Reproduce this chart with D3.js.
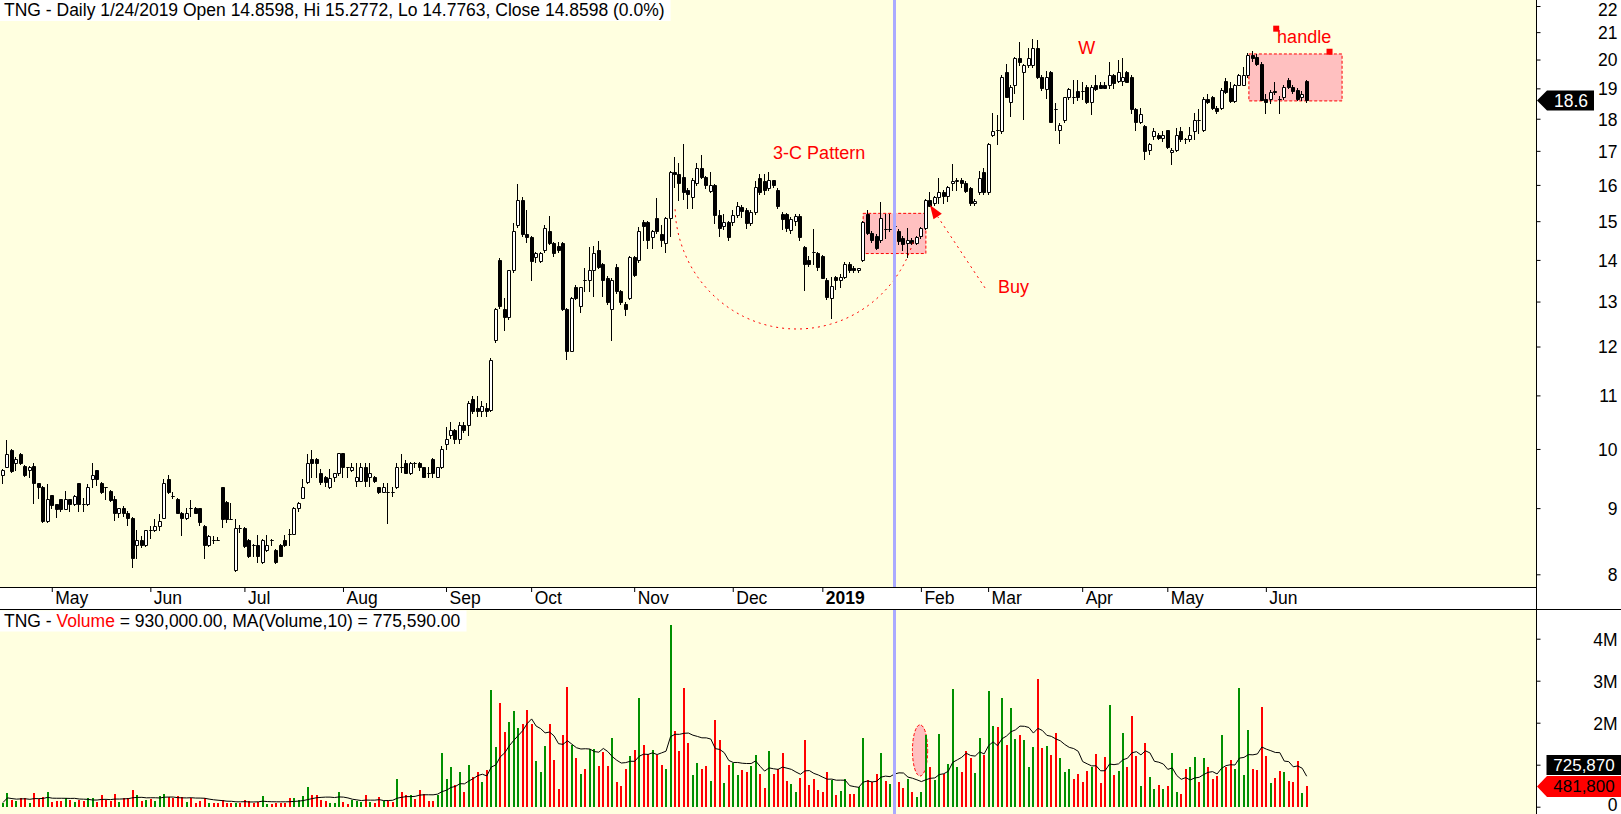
<!DOCTYPE html>
<html>
<head>
<meta charset="utf-8">
<title>TNG daily</title>
<script src="https://cdn.jsdelivr.net/npm/d3@7"></script>
<style>
  body { margin: 0; background: #fff; }
  svg { display: block; font-family: Arial, 'Liberation Sans', sans-serif; }
</style>
</head>
<body>
<div id="chart"></div>
<script>
// daily bars [open, high, low, close], 12 Apr 2018 .. 14 Jun 2019
const ohlc = [
  [9.55,9.65,9.42,9.63],[9.69,10.16,9.68,9.91],[9.98,10.0,9.6,9.62],[9.76,9.85,9.64,9.83],[9.91,9.93,9.74,9.76],
  [9.70,9.72,9.53,9.55],[9.63,9.70,9.52,9.69],[9.70,9.75,9.08,9.41],[9.41,9.42,9.16,9.34],[9.34,9.36,8.78,8.79],
  [8.79,9.40,8.78,9.14],[9.21,9.22,9.0,9.05],[9.06,9.07,8.86,8.99],[9.14,9.15,8.95,8.99],[8.99,9.28,8.98,9.14],
  [9.14,9.15,8.95,9.06],[9.06,9.22,9.05,9.20],[9.41,9.42,8.95,9.06],[9.07,9.16,8.95,9.06],[9.06,9.40,9.05,9.34],
  [9.48,9.75,9.35,9.55],[9.63,9.64,9.37,9.48],[9.41,9.43,9.25,9.27],[9.34,9.35,9.14,9.34],[9.28,9.30,9.12,9.13],
  [9.14,9.19,8.81,8.93],[8.93,9.0,8.86,9.0],[9.0,9.04,8.88,8.93],[8.93,8.95,8.73,8.85],[8.85,8.86,8.11,8.23],
  [8.43,8.65,8.24,8.51],[8.51,8.56,8.40,8.43],[8.43,8.66,8.42,8.65],[8.65,8.72,8.53,8.65],[8.65,8.83,8.64,8.72],
  [8.72,8.91,8.66,8.79],[8.85,9.48,8.84,9.41],[9.48,9.54,9.25,9.27],[9.2,9.27,9.16,9.2],[9.14,9.16,8.92,8.93],
  [8.93,8.94,8.58,8.85],[8.85,9.0,8.82,8.93],[9.0,9.13,8.87,9.0],[9.0,9.02,8.92,8.93],[9.0,9.0,8.73,8.78],
  [8.72,8.73,8.24,8.43],[8.43,8.58,8.42,8.57],[8.51,8.56,8.46,8.51],[8.51,8.55,8.51,8.51],[9.34,9.35,8.70,8.83],
  [9.1,9.11,8.78,8.83],[8.83,9.08,8.82,8.83],[8.06,8.83,8.05,8.69],[8.69,8.74,8.62,8.69],[8.69,8.70,8.40,8.41],
  [8.51,8.52,8.25,8.26],[8.43,8.44,8.26,8.43],[8.43,8.58,8.18,8.26],[8.17,8.52,8.16,8.51],[8.35,8.58,8.34,8.43],
  [8.51,8.52,8.43,8.51],[8.36,8.37,8.16,8.17],[8.43,8.44,8.26,8.26],[8.51,8.58,8.41,8.43],[8.6,8.67,8.43,8.6],
  [8.6,9.02,8.59,9.01],[9.01,9.1,8.95,9.09],[9.17,9.48,9.16,9.34],[9.43,9.91,9.42,9.76],[9.83,9.99,9.52,9.76],
  [9.83,9.84,9.52,9.76],[9.58,9.65,9.4,9.43],[9.52,9.53,9.36,9.43],[9.34,9.65,9.33,9.5],[9.52,9.58,9.45,9.58],
  [9.58,9.93,9.55,9.92],[9.92,9.93,9.52,9.68],[9.68,9.69,9.52,9.68],[9.63,9.75,9.62,9.68],[9.45,9.75,9.36,9.52],
  [9.45,9.75,9.44,9.68],[9.68,9.75,9.36,9.45],[9.52,9.75,9.36,9.58],[9.52,9.53,9.43,9.45],[9.34,9.35,9.25,9.27],
  [9.27,9.41,9.26,9.34],[9.27,9.41,8.77,9.27],[9.27,9.34,9.2,9.27],[9.34,9.75,9.33,9.68],[9.68,9.91,9.6,9.68],
  [9.76,9.8,9.58,9.58],[9.58,9.77,9.57,9.76],[9.76,9.77,9.68,9.76],[9.76,9.77,9.63,9.68],[9.68,9.69,9.52,9.52],
  [9.58,9.68,9.52,9.58],[9.83,9.84,9.52,9.58],[9.52,9.69,9.51,9.68],[9.68,10.05,9.67,10.0],[10.09,10.4,10.0,10.17],
  [10.26,10.5,10.2,10.34],[10.34,10.36,10.1,10.17],[10.17,10.5,10.1,10.43],[10.43,10.5,10.3,10.34],[10.43,10.9,10.26,10.86],
  [10.93,10.98,10.66,10.7],[10.75,10.98,10.6,10.7],[10.7,10.9,10.6,10.8],[10.75,10.85,10.6,10.7],[10.72,11.75,10.7,11.72],
  [12.13,12.85,12.1,12.82],[14.0,14.05,12.85,12.9],[12.83,13.08,12.36,12.65],[12.65,13.76,12.6,13.75],[13.75,14.95,13.7,14.74],
  [14.91,16.02,14.85,15.58],[15.58,15.65,14.6,14.65],[14.65,15.3,14.46,14.58],[14.58,14.6,13.51,13.98],[14.07,14.2,13.95,14.17],
  [13.98,14.2,13.95,14.17],[14.25,14.9,14.2,14.83],[14.74,15.13,14.4,14.43],[14.43,14.45,14.1,14.17],[14.35,14.45,14.2,14.25],
  [14.43,14.45,12.8,12.82],[12.82,12.85,11.73,11.91],[11.91,13.1,11.9,13.09],[13.33,13.4,13.05,13.09],[12.9,13.33,12.77,13.33],
  [13.5,13.79,13.24,13.5],[13.5,14.32,13.24,13.75],[13.75,14.35,13.12,14.17],[14.25,14.48,13.8,13.82],[13.9,13.92,13.12,13.51],
  [13.56,13.6,12.95,12.99],[12.82,13.55,12.14,13.5],[13.82,13.9,13.2,13.25],[13.25,13.27,12.95,12.99],[12.95,12.98,12.69,12.82],
  [13.09,14.1,13.05,14.07],[14.07,14.1,13.6,13.64],[14.0,14.85,13.95,14.74],[14.97,15.03,14.5,14.86],[14.97,15.0,14.3,14.5],
  [14.58,14.76,14.3,14.74],[15.09,15.62,14.7,14.74],[14.65,14.9,14.35,14.5],[14.43,15.1,14.19,15.09],[15.09,16.4,14.6,16.38],
  [16.38,16.8,15.95,16.3],[16.3,16.65,15.58,16.05],[16.23,17.2,15.6,15.8],[15.85,15.9,15.35,15.75],[15.65,16.2,15.35,16.14],
  [16.05,16.65,16.0,16.48],[16.48,16.87,16.2,16.23],[16.23,16.25,15.9,16.0],[15.83,16.38,15.8,16.0],[16.0,16.02,14.95,15.16],
  [15.16,15.3,14.6,14.83],[14.86,15.2,14.8,14.97],[14.97,15.0,14.5,14.57],[14.97,15.3,14.9,15.16],[15.16,15.53,15.1,15.4],
  [15.38,15.45,15.1,15.28],[15.3,15.35,14.81,14.95],[14.95,15.3,14.9,15.25],[15.25,16.1,15.2,15.95],[16.2,16.3,15.75,15.8],
  [16.1,16.3,15.75,15.85],[15.9,16.38,15.85,16.14],[16.14,16.15,15.95,16.0],[15.86,15.9,15.35,15.4],[15.2,15.25,14.8,15.07],
  [15.2,15.22,14.75,14.82],[14.76,15.1,14.7,15.05],[15.0,15.2,14.9,15.15],[15.15,15.2,14.5,14.58],[14.32,14.35,13.27,13.9],
  [14.0,14.1,13.85,13.9],[14.19,14.79,13.9,14.19],[14.17,14.2,13.75,13.82],[14.1,14.12,13.55,13.56],[13.51,13.55,13.05,13.1],
  [13.09,13.57,12.63,13.36],[13.57,13.6,13.3,13.5],[13.5,13.65,13.35,13.57],[13.57,13.95,13.55,13.9],[13.9,13.95,13.7,13.74],
  [13.8,13.85,13.7,13.74],[13.74,13.8,13.7,13.8],[14.0,15.0,13.98,14.97],[15.2,15.3,14.65,14.69],[14.69,14.75,14.45,14.5],
  [14.6,14.65,14.28,14.3],[14.5,15.52,14.45,15.09],[14.8,15.2,14.55,14.8],[14.78,15.2,14.75,14.8],[14.8598,15.2772,14.7763,14.8598],
  [14.74,14.8,14.4,14.47],[14.55,14.6,14.25,14.4],[14.43,14.81,14.07,14.5],[14.5,14.55,14.4,14.43],[14.43,14.6,14.4,14.58],
  [14.62,14.85,14.55,14.83],[14.83,15.6,14.8,15.58],[15.58,15.8,15.4,15.42],[15.48,15.7,15.45,15.65],[15.65,16.2,15.5,15.8],
  [15.8,15.85,15.5,15.7],[15.7,15.97,15.55,15.95],[16.05,16.6,15.85,16.1],[16.1,16.2,15.85,16.15],[16.15,16.2,15.95,16.05],
  [16.05,16.1,15.8,15.83],[15.91,15.95,15.45,15.48],[15.48,15.6,15.45,15.55],[15.8,16.4,15.75,16.2],[16.38,16.5,15.75,15.8],
  [15.8,17.25,15.75,17.2],[17.5,18.2,17.45,17.6],[17.64,18.12,17.2,17.64],[17.6,19.45,17.55,19.4],[19.56,19.84,18.7,18.7],
  [18.55,19.1,18.1,19.05],[19.13,20.1,18.85,20.06],[20.06,20.65,19.8,19.93],[19.56,19.85,17.99,19.8],[19.8,20.4,19.75,20.07],
  [19.8,20.76,19.75,20.4],[20.4,20.7,19.35,19.4],[19.4,19.45,18.95,19.02],[18.97,19.58,18.67,19.4],[19.56,19.6,17.9,17.91],
  [18.3,18.5,17.64,18.3],[17.64,17.85,17.25,17.81],[17.96,18.72,17.9,18.7],[18.7,19.0,18.65,18.97],[18.72,19.3,18.5,18.7],
  [18.9,19.3,18.6,18.72],[18.9,19.2,18.65,18.9],[19.05,19.1,18.5,18.55],[18.55,19.1,18.15,19.05],[19.13,19.45,18.95,18.98],
  [19.13,19.2,19.0,19.02],[19.13,19.2,19.0,19.02],[19.13,19.9,19.0,19.46],[19.46,19.5,19.0,19.17],[19.26,20.0,19.2,19.56],
  [19.26,20.05,19.1,19.4],[19.56,19.6,19.2,19.2],[19.4,19.45,18.2,18.3],[18.3,18.35,17.64,17.91],[17.91,18.35,17.85,18.15],
  [17.78,17.8,16.76,17.0],[17.03,17.25,16.9,17.2],[17.47,17.7,17.35,17.6],[17.5,17.55,17.35,17.4],[17.4,17.6,17.3,17.5],
  [17.64,17.65,17.1,17.12],[16.96,17.1,16.62,17.04],[17.04,17.7,17.0,17.5],[17.6,17.75,17.3,17.35],[17.35,17.4,17.25,17.35],
  [17.35,17.75,17.3,17.5],[17.6,18.2,17.35,17.96],[17.96,18.3,17.55,17.96],[17.64,18.7,17.6,18.64],[18.64,18.8,18.5,18.55],
  [18.7,18.75,18.3,18.35],[18.35,18.4,18.2,18.25],[18.35,19.0,18.3,18.95],[19.24,19.35,18.85,18.87],[19.0,19.2,18.55,18.58],
  [18.58,19.15,18.55,19.13],[19.13,19.5,19.1,19.46],[19.13,19.75,19.1,19.46],[19.46,20.25,19.4,20.16],[20.16,20.3,19.95,20.04],
  [20.1,20.2,19.8,19.83],[19.83,19.9,18.6,18.61],[18.64,18.8,18.2,18.55],[18.64,18.95,18.5,18.87],[18.92,19.2,18.8,18.87],
  [18.65,18.75,18.2,18.65],[18.72,19.1,18.65,19.05],[19.28,19.35,19.0,19.05],[19.05,19.1,18.85,18.9],[18.95,19.0,18.6,18.64],
  [18.7,18.9,18.6,18.8],[19.25,19.3,18.55,18.6]
]

// volume per bar, millions of shares
const volume = [
  0.10,0.32,0.16,0.14,0.21,0.20,0.10,0.32,0.18,0.24,
  0.36,0.12,0.14,0.14,0.20,0.17,0.12,0.16,0.14,0.20,
  0.20,0.12,0.28,0.16,0.14,0.30,0.12,0.20,0.21,0.40,
  0.28,0.14,0.16,0.18,0.14,0.25,0.30,0.24,0.21,0.25,
  0.24,0.12,0.21,0.10,0.13,0.21,0.10,0.08,0.10,0.16,
  0.10,0.10,0.08,0.10,0.17,0.14,0.10,0.12,0.25,0.06,
  0.06,0.08,0.08,0.10,0.20,0.21,0.17,0.25,0.48,0.29,
  0.28,0.16,0.14,0.10,0.10,0.36,0.12,0.06,0.17,0.13,
  0.12,0.28,0.12,0.10,0.22,0.13,0.14,0.12,0.67,0.34,
  0.28,0.28,0.18,0.40,0.30,0.13,0.13,0.28,1.27,0.67,
  0.95,0.52,0.83,0.36,0.99,0.71,0.83,0.60,0.87,2.79,
  1.43,2.46,1.79,2.02,2.28,1.87,1.98,2.30,1.98,1.09,
  0.83,1.44,1.98,1.11,0.42,1.71,2.84,1.47,1.15,0.79,
  0.89,1.37,1.37,0.97,1.31,0.97,1.64,0.60,0.49,0.89,
  1.21,1.35,2.58,1.47,1.25,1.35,1.23,0.99,0.90,4.33,
  1.80,1.33,2.83,1.52,0.75,1.05,0.90,0.98,0.61,2.06,
  1.59,0.57,0.99,1.03,0.75,0.87,0.83,0.98,1.23,0.78,
  0.45,1.33,0.78,0.89,1.29,0.61,0.54,0.36,0.69,1.59,
  0.52,0.66,0.40,0.36,0.82,0.63,0.28,0.37,0.67,0.30,
  0.30,0.48,1.64,0.63,0.60,0.78,1.27,0.61,0.54,0.93,
  0.58,0.44,0.67,0.36,0.22,0.36,1.71,0.95,0.63,1.73,
  0.78,1.02,2.80,0.95,0.83,1.33,1.17,0.81,1.64,1.23,
  2.76,1.92,1.89,2.60,1.47,2.36,1.61,1.71,1.59,0.95,
  1.43,3.04,1.39,1.44,1.23,1.75,1.17,0.83,0.90,0.66,
  0.78,0.60,0.85,0.95,1.25,0.56,1.19,2.42,0.75,0.85,
  1.76,0.95,2.16,1.21,0.49,1.52,0.71,0.42,0.52,0.42,
  0.49,1.29,0.36,0.30,0.90,0.95,1.19,0.58,1.17,0.95,
  0.66,0.73,1.71,0.94,1.11,0.89,2.83,0.75,1.83,0.90,
  0.87,2.38,1.20,0.57,0.69,0.85,0.82,0.62,0.60,1.10,
  0.3269,0.4818
]

// first bar of each month and its label
const monthIndex = [11, 33, 54, 76, 99, 118, 141, 163, 183, 205, 220, 241, 260, 282]
const monthLabels = ['May', 'Jun', 'Jul', 'Aug', 'Sep', 'Oct', 'Nov', 'Dec', '2019', 'Feb', 'Mar', 'Apr', 'May', 'Jun']
const priceTicks = [8, 9, 10, 11, 12, 13, 14, 15, 16, 17, 18, 19, 20, 21, 22]
const volTicks = [0, 1, 2, 3, 4]
const volTickLabels = ['0', '', '2M', '3M', '4M'] // 1M sits under the MA tag
const cursorIndex = 199

const priceTitle = 'TNG - Daily 1/24/2019 Open 14.8598, Hi 15.2772, Lo 14.7763, Close 14.8598 (0.0%)'
const volTitle = [['TNG - ', '#000'], ['Volume', '#f00'], [' = 930,000.00, MA(Volume,10) = 775,590.00', '#000']]

// drawings on the chart, anchored in bar / price units
const notes = [
  { text: '3-C Pattern', i: 171.9, p: 16.76 },
  { text: 'W', i: 240, p: 20.2 },
  { text: 'Buy', i: 222.1, p: 13.2 },
  { text: 'handle', i: 284.4, p: 20.6 }
]
const zones = [
  { i0: 192, i1: 206, lo: 14.16, hi: 15.21 },
  { i0: 278.1, i1: 298.9, lo: 18.58, hi: 20.2 }
]
const grips = [{ i: 284.2, p: 21.13 }, { i: 296.1, p: 20.28 }]
const cup = { i: 177.2, p: 15.44, iEdge: 204.4, pBottom: 12.38 }
const buyArrow = { from: { i: 219.2, p: 13.32 }, to: { i: 206.9, p: 15.44 } }
const volOval = { i: 204.7, v: 1.34, di: 1.7, dv: 0.61 }

const width = 1621, height = 814
const axisX = 1536.5
const priceBottom = 587, volTop = 609
const fontSize = 17.5
const green = '#009000', red = '#ff0000', pink = '#ffc0c0'

const svg = d3.select('#chart').append('svg')
  .attr('width', width)
  .attr('height', height)

svg.append('rect').attr('width', width).attr('height', height).attr('fill', '#fff')
svg.append('rect').attr('width', 1536).attr('height', priceBottom).attr('fill', '#ffffe0')
svg.append('rect').attr('y', volTop).attr('width', 1536).attr('height', height - volTop).attr('fill', '#ffffe0')

const defs = svg.append('defs')
defs.append('clipPath').attr('id', 'clipPrice').append('rect').attr('width', 1536).attr('height', priceBottom)
defs.append('clipPath').attr('id', 'clipVol').append('rect').attr('y', volTop).attr('width', 1536).attr('height', height - volTop)

const x = d3.scaleLinear().domain([0, ohlc.length - 1]).range([3, 3 + 4.48 * (ohlc.length - 1)])
const y = d3.scaleLog().domain([8, 22]).range([574.3, 6])
const yv = d3.scaleLinear().domain([0, 4]).range([806.7, 638.7])
const cx = i => Math.round(x(i))
const up = d => d[3] > d[0]

const gPrice = svg.append('g').attr('clip-path', 'url(#clipPrice)')

// pink zones sit under the candles
gPrice.selectAll('rect.zone')
  .data(zones)
  .join('rect')
  .attr('class', 'zone')
  .attr('x', d => x(d.i0))
  .attr('y', d => y(d.hi))
  .attr('width', d => x(d.i1) - x(d.i0))
  .attr('height', d => y(d.lo) - y(d.hi))
  .attr('fill', pink)
  .attr('stroke', red)
  .attr('stroke-dasharray', '3,2')

// candles
gPrice.selectAll('line.wick')
  .data(ohlc)
  .join('line')
  .attr('class', 'wick')
  .attr('x1', (d, i) => cx(i) - 0.5)
  .attr('x2', (d, i) => cx(i) - 0.5)
  .attr('y1', d => Math.round(y(d[1])))
  .attr('y2', d => Math.round(y(d[2])) + 1)
  .attr('stroke', '#000')

gPrice.selectAll('path.body')
  .data(ohlc)
  .join('path')
  .attr('class', 'body')
  .attr('d', (d, i) => {
    const c = cx(i)
    const top = Math.round(y(Math.max(d[0], d[3]))) + 0.5
    const bot = Math.round(y(Math.min(d[0], d[3]))) + 0.5
    return `M${c - 1.5},${top}H${c + 1.5}V${bot}H${c - 1.5}Z`
  })
  .attr('fill', d => up(d) ? '#fff' : '#000')
  .attr('stroke', '#000')

// cup arc, dotted
const arcCx = x(cup.i), arcCy = y(cup.p)
const arcRx = x(cup.iEdge) - arcCx, arcRy = y(cup.pBottom) - arcCy
const arcPts = d3.range(178, 14, -2).map(a => {
  const t = a * Math.PI / 180
  return [arcCx + arcRx * Math.cos(t), arcCy + arcRy * Math.sin(t)]
})
gPrice.append('path')
  .attr('d', d3.line()(arcPts))
  .attr('fill', 'none')
  .attr('stroke', red)
  .attr('stroke-dasharray', '2,4')

// buy arrow
const ax0 = x(buyArrow.from.i), ay0 = y(buyArrow.from.p)
const ax1 = x(buyArrow.to.i), ay1 = y(buyArrow.to.p)
const len = Math.hypot(ax1 - ax0, ay1 - ay0)
const ux = (ax1 - ax0) / len, uy = (ay1 - ay0) / len
const headL = 14, headW = 5
const bx = ax1 - ux * headL, by = ay1 - uy * headL
gPrice.append('line')
  .attr('x1', ax0).attr('y1', ay0)
  .attr('x2', bx).attr('y2', by)
  .attr('stroke', red)
  .attr('stroke-dasharray', '2,4')
gPrice.append('path')
  .attr('d', `M${ax1},${ay1}L${bx - uy * headW},${by + ux * headW}L${bx + uy * headW},${by - ux * headW}Z`)
  .attr('fill', red)

gPrice.selectAll('rect.grip')
  .data(grips)
  .join('rect')
  .attr('class', 'grip')
  .attr('x', d => x(d.i) - 3)
  .attr('y', d => y(d.p) - 3)
  .attr('width', 6)
  .attr('height', 6)
  .attr('fill', red)

gPrice.selectAll('text.note')
  .data(notes)
  .join('text')
  .attr('class', 'note')
  .attr('x', d => x(d.i))
  .attr('y', d => y(d.p))
  .attr('font-size', 18)
  .attr('fill', red)
  .text(d => d.text)

// volume panel
const gVol = svg.append('g').attr('clip-path', 'url(#clipVol)')

gVol.append('ellipse')
  .attr('cx', x(volOval.i))
  .attr('cy', yv(volOval.v))
  .attr('rx', x(volOval.i + volOval.di) - x(volOval.i))
  .attr('ry', yv(volOval.v - volOval.dv) - yv(volOval.v))
  .attr('fill', pink)
  .attr('stroke', red)
  .attr('stroke-dasharray', '3,2')

gVol.selectAll('rect.vol')
  .data(volume)
  .join('rect')
  .attr('class', 'vol')
  .attr('x', (d, i) => cx(i) - 1)
  .attr('y', d => Math.round(yv(d)))
  .attr('width', 2)
  .attr('height', d => Math.round(yv(0)) - Math.round(yv(d)))
  .attr('fill', (d, i) => up(ohlc[i]) ? green : red)

const ma = volume.map((v, i) => d3.mean(volume.slice(Math.max(0, i - 9), i + 1)))
gVol.append('path')
  .attr('d', d3.line().x((d, i) => x(i)).y(d => yv(d))(ma))
  .attr('fill', 'none')
  .attr('stroke', '#000')

// cursor line
svg.selectAll('rect.cursor')
  .data([[0, priceBottom], [volTop, height]])
  .join('rect')
  .attr('class', 'cursor')
  .attr('x', cx(cursorIndex) - 2)
  .attr('y', d => d[0])
  .attr('width', 3)
  .attr('height', d => d[1] - d[0])
  .attr('fill', '#aaaaff')

// frame lines
svg.append('line').attr('x1', 0).attr('x2', axisX).attr('y1', priceBottom + 0.5).attr('y2', priceBottom + 0.5).attr('stroke', '#000')
svg.append('line').attr('x1', 0).attr('x2', width).attr('y1', volTop + 0.5).attr('y2', volTop + 0.5).attr('stroke', '#000')
svg.append('line').attr('x1', axisX).attr('x2', axisX).attr('y1', 0).attr('y2', height).attr('stroke', '#000')

// month axis
const gx = svg.append('g')
  .attr('transform', `translate(-0.5,${priceBottom})`)
  .call(d3.axisBottom(x).tickValues(monthIndex).tickFormat((d, i) => monthLabels[i]).tickSize(5).tickPadding(0))
gx.select('.domain').remove()
gx.attr('font-family', null).attr('font-size', fontSize)
gx.selectAll('text').attr('text-anchor', 'start').attr('x', 3).attr('fill', '#000')
gx.selectAll('.tick').filter(d => d === 183).select('text').attr('font-weight', 'bold')

// price axis
const gy = svg.append('g')
  .attr('transform', `translate(${axisX + 0.5},0)`)
  .call(d3.axisRight(y).tickValues(priceTicks).tickFormat(d3.format('d')).tickSize(3.5))
gy.select('.domain').remove()
gy.attr('font-family', null).attr('font-size', fontSize)
gy.selectAll('text').attr('text-anchor', 'end').attr('x', 80.5).attr('dy', '0.36em').attr('fill', '#000')
// top label is pushed inside the frame
gy.selectAll('.tick').filter(d => d === 22).select('text').attr('dy', '0.56em')

// volume axis
const gyv = svg.append('g')
  .attr('transform', `translate(${axisX + 0.5},0)`)
  .call(d3.axisRight(yv).tickValues(volTicks).tickFormat((d, i) => volTickLabels[i]).tickSize(3.5))
gyv.select('.domain').remove()
gyv.attr('font-family', null).attr('font-size', fontSize)
gyv.selectAll('text').attr('text-anchor', 'end').attr('x', 80.5).attr('dy', '0.36em').attr('fill', '#000')
gyv.selectAll('.tick').filter(d => d === 0).select('text').attr('dy', '0.22em')

// last value tags
const last = ohlc.length - 1
const yl = Math.round(y(ohlc[last][3])) + 0.5
svg.append('path')
  .attr('d', `M${axisX + 0.5},${yl}L${axisX + 10.5},${yl - 10}H1594V${yl + 10}H${axisX + 10.5}Z`)
  .attr('fill', '#000')
svg.append('text')
  .attr('x', 1571).attr('y', yl).attr('dy', '0.36em')
  .attr('text-anchor', 'middle').attr('font-size', fontSize).attr('fill', '#fff')
  .text(d3.format('.1f')(ohlc[last][3]))

const yvl = Math.round(yv(volume[last])) + 0.5
svg.append('path')
  .attr('d', `M${axisX + 0.5},${yvl}L${axisX + 10.5},${yvl - 10.5}H${width}V${yvl + 10.5}H${axisX + 10.5}Z`)
  .attr('fill', red)
svg.append('text')
  .attr('x', 1584).attr('y', yvl).attr('dy', '0.34em')
  .attr('text-anchor', 'middle').attr('font-size', 17).attr('fill', '#000')
  .text(d3.format(',')(Math.round(volume[last] * 1e6)))

const maTop = yvl - 10.5 - 21
svg.append('rect')
  .attr('x', axisX + 10).attr('y', maTop).attr('width', width - axisX - 10).attr('height', 20)
  .attr('fill', '#000')
svg.append('text')
  .attr('x', 1584).attr('y', maTop + 10).attr('dy', '0.34em')
  .attr('text-anchor', 'middle').attr('font-size', 17).attr('fill', '#fff')
  .text(d3.format(',')(Math.round(ma[last] * 1e6)))

// titles on white strips
function title(parts, yBase, yTop) {
  const bg = svg.append('rect').attr('x', 0).attr('y', yTop).attr('height', 21).attr('fill', '#fff')
  const t = svg.append('text').attr('x', 4).attr('y', yBase).attr('font-size', fontSize)
  parts.forEach(p => t.append('tspan').attr('fill', p[1]).text(p[0]))
  bg.attr('width', t.node().getBBox().width + 10)
}
title([[priceTitle, '#000']], 15.5, 0)
title(volTitle, 627, 610.5)
</script>
</body>
</html>
